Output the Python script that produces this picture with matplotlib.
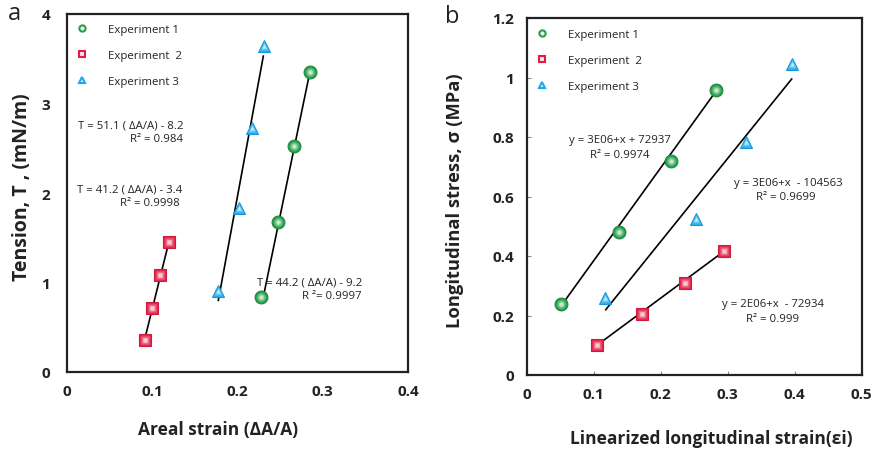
import matplotlib
matplotlib.use("Agg")
import matplotlib.pyplot as plt
import numpy as np
from matplotlib.lines import Line2D
from matplotlib.colors import to_rgb

plt.rcParams['font.family'] = ['Open Sans', 'DejaVu Sans']

# ---- Panel a data: areal strain vs tension ----
a_exp1_x = [0.228, 0.248, 0.266, 0.285]
a_exp1_y = [0.84, 1.68, 2.52, 3.355]
a_exp2_x = [0.091, 0.100, 0.1095, 0.1196]
a_exp2_y = [0.36, 0.72, 1.084, 1.456]
a_exp3_x = [0.1775, 0.2014, 0.2166, 0.231]
a_exp3_y = [0.91, 1.83, 2.73, 3.646]
# fit line end points
a_fit1_x = [0.229, 0.284]
a_fit1_y = [0.78, 3.31]
a_fit2_x = [0.091, 0.1196]
a_fit2_y = [0.36, 1.456]
a_fit3_x = [0.1775, 0.2303]
a_fit3_y = [0.80, 3.53]

# ---- Panel b data: linearized strain vs stress ----
b_exp1_x = [0.0512, 0.1378, 0.215, 0.2826]
b_exp1_y = [0.2387, 0.48, 0.72, 0.959]
b_exp2_x = [0.1054, 0.172, 0.2358, 0.2945]
b_exp2_y = [0.1008, 0.205, 0.309, 0.416]
b_exp3_x = [0.1169, 0.252, 0.3273, 0.3965]
b_exp3_y = [0.259, 0.524, 0.782, 1.045]
b_fit1_x = [0.057, 0.2796]
b_fit1_y = [0.25, 0.945]
b_fit2_x = [0.1054, 0.2945]
b_fit2_y = [0.1008, 0.416]
b_fit3_x = [0.118, 0.3955]
b_fit3_y = [0.2196, 0.995]

a_xticks = [0, 0.1, 0.2, 0.3, 0.4]
a_xticklabels = ['0', '0.1', '0.2', '0.3', '0.4']
a_yticks = [0, 1, 2, 3, 4]
a_yticklabels = ['0', '1', '2', '3', '4']
b_xticks = [0, 0.1, 0.2, 0.3, 0.4, 0.5]
b_xticklabels = ['0', '0.1', '0.2', '0.3', '0.4', '0.5']
b_yticks = [0, 0.2, 0.4, 0.6, 0.8, 1.0, 1.2]
b_yticklabels = ['0', '0.2', '0.4', '0.6', '0.8', '1', '1.2']

legend_labels = ['Experiment 1', 'Experiment  2', 'Experiment 3']

GREEN = '#26a04a'
GREEN_E = '#1c8a3a'
RED = '#e21d45'
RED_E = '#d01a3c'
BLUE = '#1ea8ea'
BLUE_E = '#1697d8'
TXT = '#222222'


def shaded(ax, x, y, marker, color, edge, size, z=4):
    base = np.array(to_rgb(color))
    ax.plot(x, y, linestyle='none', marker=marker, markersize=size,
            markerfacecolor=color, markeredgecolor=edge, markeredgewidth=0.8, zorder=z)
    n = 6
    for i in range(1, n):
        f = i / n
        c = base + (np.ones(3) - base) * (f ** 1.2) * 0.95
        s = size * (1 - f * 0.85) * (0.85 if marker == '^' else 0.9)
        ax.plot(x, y, linestyle='none', marker=marker, markersize=s,
                markerfacecolor=tuple(c), markeredgecolor='none', zorder=z + i * 0.01)


fig = plt.figure(figsize=(8.73, 4.52), dpi=100)

# ---------------- Panel a ----------------
axa = fig.add_axes([67 / 873, 1 - 373 / 452, 341 / 873, 358 / 452])
axa.set_xlim(0, 0.4)
axa.set_ylim(0, 4)
axa.plot(a_fit1_x, a_fit1_y, color='black', lw=1.2, zorder=3)
axa.plot(a_fit2_x, a_fit2_y, color='black', lw=1.2, zorder=3)
axa.plot(a_fit3_x, a_fit3_y, color='black', lw=1.2, zorder=3)
shaded(axa, a_exp1_x, a_exp1_y, 'o', GREEN, GREEN_E, 9.2)
shaded(axa, a_exp2_x, a_exp2_y, 's', RED, RED_E, 8.8)
shaded(axa, a_exp3_x, a_exp3_y, '^', BLUE, BLUE_E, 9.2)
axa.set_xticks(a_xticks)
axa.set_xticklabels(a_xticklabels)
axa.set_yticks(a_yticks)
axa.set_yticklabels(a_yticklabels)
axa.tick_params(length=0, labelsize=11, pad=9, labelcolor=TXT)
axa.tick_params(axis='y', pad=12)
for lab in axa.get_xticklabels() + axa.get_yticklabels():
    lab.set_fontweight('bold')
for sp in axa.spines.values():
    sp.set_linewidth(1.6)
    sp.set_color('#222222')

# ---------------- Panel b ----------------
axb = fig.add_axes([526.7 / 873, 1 - 376 / 452, 335 / 873, 357 / 452])
axb.set_xlim(0, 0.5)
axb.set_ylim(0, 1.2)
axb.plot(b_fit1_x, b_fit1_y, color='black', lw=1.2, zorder=3)
axb.plot(b_fit2_x, b_fit2_y, color='black', lw=1.2, zorder=3)
axb.plot(b_fit3_x, b_fit3_y, color='black', lw=1.2, zorder=3)
shaded(axb, b_exp1_x, b_exp1_y, 'o', GREEN, GREEN_E, 9.2)
shaded(axb, b_exp2_x, b_exp2_y, 's', RED, RED_E, 8.8)
shaded(axb, b_exp3_x, b_exp3_y, '^', BLUE, BLUE_E, 9.2)
axb.set_xticks(b_xticks)
axb.set_xticklabels(b_xticklabels)
axb.set_yticks(b_yticks)
axb.set_yticklabels(b_yticklabels)
axb.tick_params(direction='in', length=3, width=0.8, color='#888888', labelsize=11, pad=9,
                labelcolor=TXT)
for lab in axb.get_xticklabels() + axb.get_yticklabels():
    lab.set_fontweight('bold')
for sp in axb.spines.values():
    sp.set_linewidth(1.6)
    sp.set_color('#222222')

# ---------------- Legends ----------------
def legend_handles():
    return [
        Line2D([], [], linestyle='none', marker='o', markersize=4.5, markerfacecolor='#e8f7ea',
               markeredgecolor=GREEN, markeredgewidth=1.5),
        Line2D([], [], linestyle='none', marker='s', markersize=4.3, markerfacecolor='#fbe3e8',
               markeredgecolor=RED, markeredgewidth=1.5),
        Line2D([], [], linestyle='none', marker='^', markersize=5, markerfacecolor='#e3f4fc',
               markeredgecolor=BLUE, markeredgewidth=1.5),
    ]

for ax, anchor in ((axa, (0.0, 0.997)), (axb, (0.0, 0.995))):
    ax.legend(legend_handles(), legend_labels, loc='upper left', bbox_to_anchor=anchor,
              frameon=False, fontsize=8.2, handlelength=1.0, handletextpad=1.8,
              labelspacing=1.3, borderpad=0.5, borderaxespad=0.3, labelcolor=TXT)

# ---------------- Annotations (figure pixel coordinates) ----------------
def ptext(x, y, s, **kw):
    fig.text(x / 873, 1 - y / 452, s, **kw)

afs = 8.2
ptext(183, 126, 'T = 51.1 ( ΔA/A) - 8.2', ha='right', va='center', fontsize=afs, color=TXT)
ptext(183, 140, 'R² = 0.984', ha='right', va='center', fontsize=afs, color=TXT)
ptext(182, 190, 'T = 41.2 ( ΔA/A) - 3.4', ha='right', va='center', fontsize=afs, color=TXT)
ptext(180, 204, 'R² = 0.9998', ha='right', va='center', fontsize=afs, color=TXT)
ptext(362, 283, 'T = 44.2 ( ΔA/A) - 9.2', ha='right', va='center', fontsize=afs, color=TXT)
ptext(362, 297, 'R ²= 0.9997', ha='right', va='center', fontsize=afs, color=TXT)

ptext(620, 141, 'y = 3E06+x + 72937', ha='center', va='center', fontsize=afs, color=TXT)
ptext(620, 155, 'R² = 0.9974', ha='center', va='center', fontsize=afs, color=TXT)
ptext(788, 184, 'y = 3E06+x  - 104563', ha='center', va='center', fontsize=afs, color=TXT)
ptext(786, 198, 'R² = 0.9699', ha='center', va='center', fontsize=afs, color=TXT)
ptext(773, 305, 'y = 2E06+x  - 72934', ha='center', va='center', fontsize=afs, color=TXT)
ptext(773, 320, 'R² = 0.999', ha='center', va='center', fontsize=afs, color=TXT)

# axis labels
ptext(218, 430, 'Areal strain (ΔA/A)', ha='center', va='center', fontsize=12.5,
      fontweight='bold', color=TXT)
ptext(22, 187, 'Tension, T , (mN/m)', ha='center', va='center', fontsize=14,
      fontweight='bold', rotation=90, color=TXT)
ptext(711, 439, 'Linearized longitudinal strain(εi)', ha='center', va='center', fontsize=12.5,
      fontweight='bold', color=TXT)
ptext(455, 201, 'Longitudinal stress, σ (MPa)', ha='center', va='center', fontsize=13.2,
      fontweight='bold', rotation=90, color=TXT)

# panel letters
ptext(14, 14, 'a', ha='center', va='center', fontsize=17, color=TXT)
ptext(452, 17, 'b', ha='center', va='center', fontsize=17, color=TXT)

fig.savefig('out.png', dpi=100)
